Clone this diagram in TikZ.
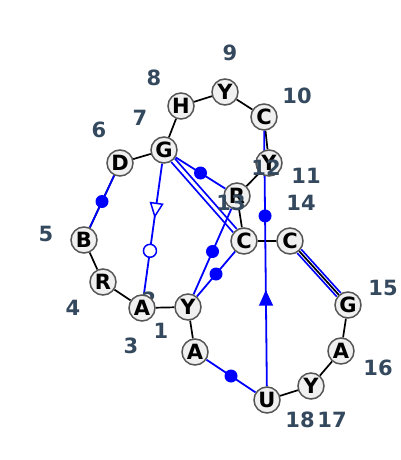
\documentclass[tikz,border=0pt]{standalone}
\usepackage{fontspec}
\setsansfont{DejaVu Sans}
\usepackage{tikz}
\usetikzlibrary{positioning, shapes.geometric, backgrounds}
\definecolor{LabelGray}{RGB}{52,73,94}
\definecolor{NucFill}{RGB}{240,240,240}
\definecolor{NucRim}{RGB}{85,85,85}
\tikzset{Nuc/.style={circle, draw=NucRim, fill=NucFill, line width=1.5pt,
    minimum size=26pt, inner sep=0pt,
    font=\sffamily\bfseries\fontsize{21}{21}\selectfont}}
\tikzset{Num/.style={text=LabelGray, inner sep=0pt,
    font=\sffamily\bfseries\fontsize{21}{21}\selectfont}}
\tikzset{BB/.style={draw=black, line width=1.7pt}}
\tikzset{P/.style={draw=blue, line width=1.8pt}}
\tikzset{Dot/.style={circle, fill=blue, draw=none, minimum size=13pt, inner sep=0pt}}
\tikzset{Ring/.style={circle, fill=white, draw=blue, line width=1.5pt,
    minimum size=13pt, inner sep=0pt}}
\tikzset{Tri/.style={isosceles triangle, isosceles triangle stretches,
    shape border rotate=180,
    minimum width=12pt, minimum height=13pt, inner sep=0pt,
    draw=blue, fill=white, line width=1.5pt, sloped}}
\newcommand{\NucNode}[5]{
    \node[Nuc] (#1) at (#2) {#3};
    \node[Num] (l#1) at (#4) {#5};
}

\begin{document}
\begin{tikzpicture}[x=1pt, y=-1pt]
    \useasboundingbox (0,0) rectangle (400,460);

    %% Nucleotides and their numbers
    \NucNode{n1}{195,352}{A}{161,331}{1}
    \NucNode{n2}{188,307}{Y}{149,300}{2}
    \NucNode{n3}{142,308}{A}{131,346}{3}
    \NucNode{n4}{103,282}{R}{73,308}{4}
    \NucNode{n5}{84,240}{B}{46,234}{5}
    \NucNode{n6}{120,163}{D}{99,130}{6}
    \NucNode{n7}{164,150}{G}{140,118}{7}
    \NucNode{n8}{181,106}{H}{154,78}{8}
    \NucNode{n9}{225,92}{Y}{230,53}{9}
    \NucNode{n10}{264,117}{C}{297,96}{10}
    \NucNode{n11}{269,163}{Y}{306,176}{11}
    \NucNode{n12}{237,196}{R}{266,168}{12}
    \NucNode{n13}{244,241}{C}{231,203}{13}
    \NucNode{n14}{290,241}{C}{301,203}{14}
    \NucNode{n15}{348,305}{G}{383,288}{15}
    \NucNode{n16}{341,351}{A}{378,368}{16}
    \NucNode{n17}{311,386}{Y}{332,420}{17}
    \NucNode{n18}{267,400}{U}{300,420}{18}

    \begin{scope}[on background layer]
      %% Stem pair
      \draw[P, double=white, double distance=3.5pt] (n14) -- (n15);

      %% Backbone
      \draw[BB] (n1) -- (n2) -- (n3) -- (n4) -- (n5) -- (n6) -- (n7)
        -- (n8) -- (n9) -- (n10) -- (n11) -- (n12) -- (n13) -- (n14)
        -- (n15) -- (n16) -- (n17) -- (n18);

      %% Other pairs
      \draw[P] (n6) -- node[Dot] {} (n5);
      \draw[P] (n7) -- node[Tri, pos=1/3] {} node[Ring, pos=2/3] {} (n3);
      \draw[P] (n7) -- node[Dot] {} (n12);
      \draw[P, double=white, double distance=3pt] (n7) -- (n13);
      \draw[P] (n2) -- node[Dot] {} (n12);
      \draw[P] (n2) -- node[Dot] {} (n13);
      \draw[P] (n18) -- node[Tri, fill=blue, pos=1/3] {} node[Dot, pos=2/3] {} (n10);
      \draw[P] (n18) -- node[Dot] {} (n1);
    \end{scope}

\end{tikzpicture}
\end{document}
